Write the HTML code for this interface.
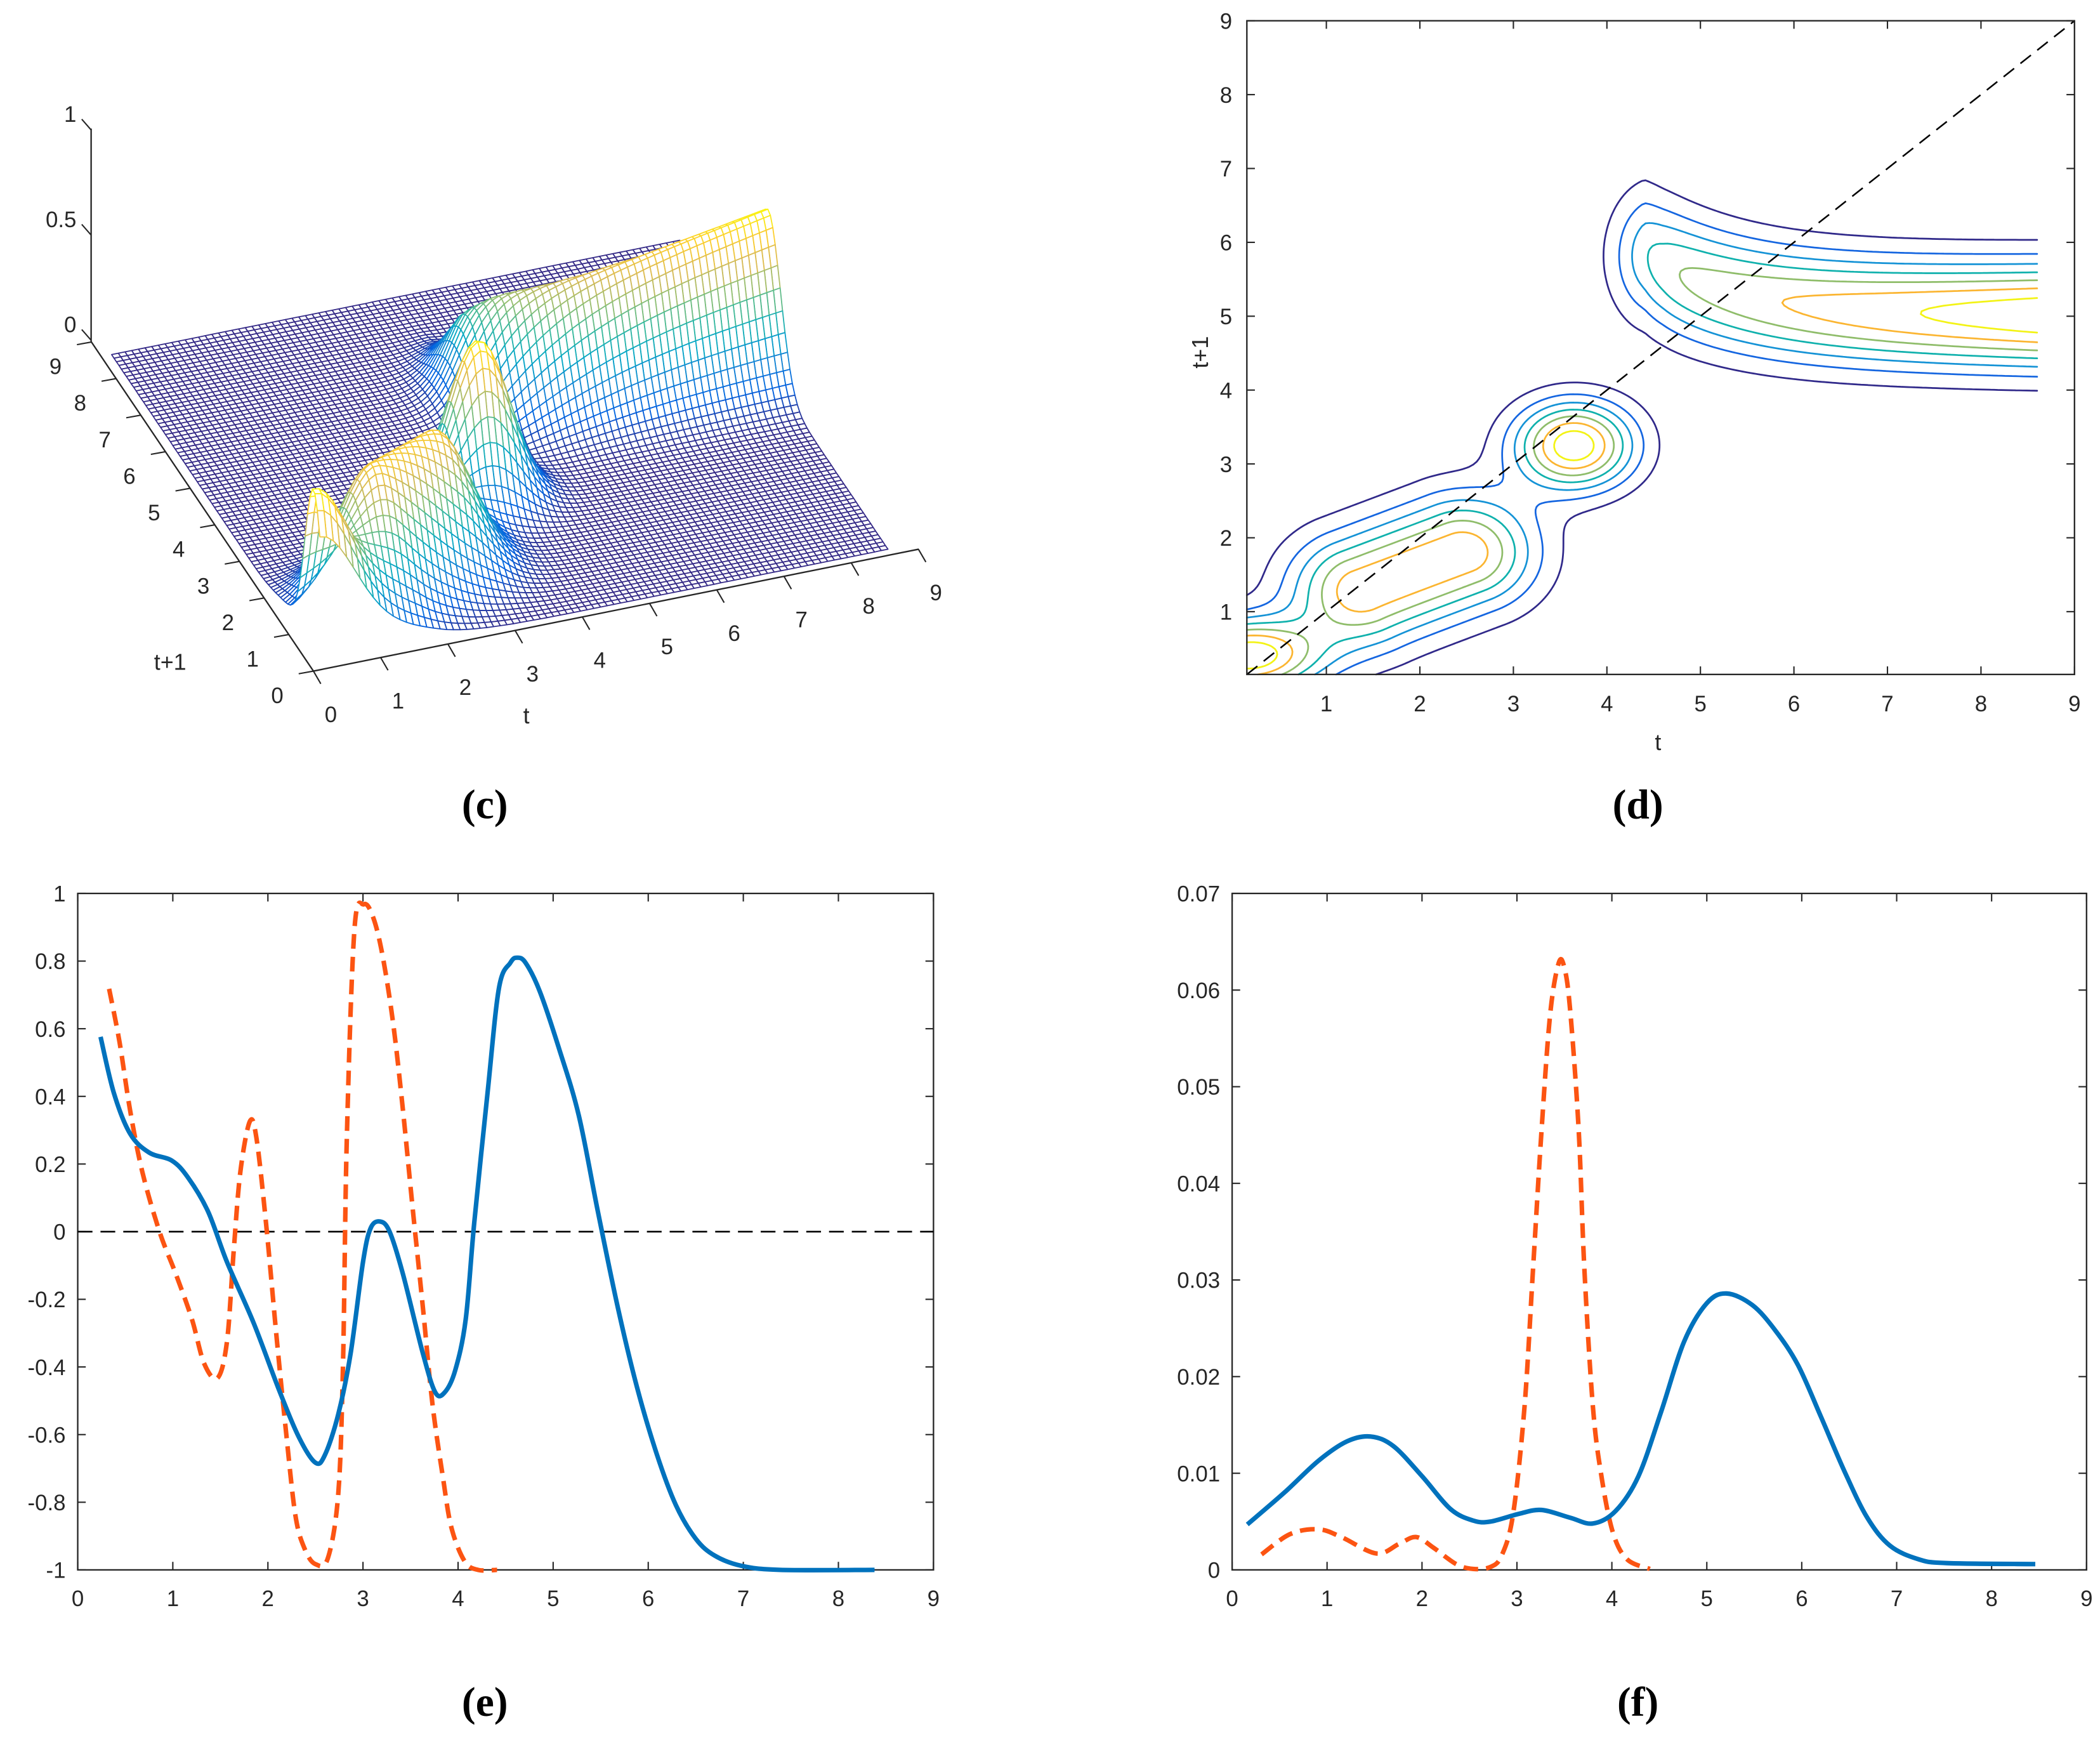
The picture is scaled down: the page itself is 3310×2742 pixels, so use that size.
<!DOCTYPE html>
<html><head><meta charset="utf-8"><style>
html,body{margin:0;padding:0;background:#fff;}
svg{display:block;}
text{font-family:"Liberation Sans",Arial,sans-serif;fill:#262626;}
.pl{font-family:"Liberation Serif",serif;font-weight:bold;fill:#000;}
</style></head><body>
<svg id="fig" xmlns="http://www.w3.org/2000/svg" width="3310" height="2742" viewBox="0 0 1568 1299">
<rect x="0" y="0" width="1568" height="1299" fill="#fff"/>
<g id="pc"></g>
<g id="pd"></g>
<g id="pe"></g>
<g id="pf"></g>
<text class="pl" x="362" y="611" font-size="31" text-anchor="middle">(c)</text>
<text class="pl" x="1223" y="611" font-size="31" text-anchor="middle">(d)</text>
<text class="pl" x="362" y="1281" font-size="31" text-anchor="middle">(e)</text>
<text class="pl" x="1223" y="1281" font-size="31" text-anchor="middle">(f)</text>
</svg>
<script>
// ---------- data ----------
const peakA = [0.78, 0.15, 0.40, 0.55, 0.35];           // amp, t, s, sigT, sigS
const ridgeB = [0.68, 1.40, 1.30, 2.45, 1.80, 0.55];     // amp, t1, s1, t2, s2, sigma
const peakC = [0.78, 3.65, 3.25, 0.45, 0.42];
const ridgeD = [0.50, 0.78, 4.20, 5.00, 0.90, 0.50];     // ampStart, ampEnd, edgeT, centerEnd, centerShift, sigma
const contourLevels = [0.1, 0.2, 0.3, 0.4, 0.5, 0.6, 0.7];
const contourColors = ["#30298a","#1566e0","#1593d6","#10b1ad","#8fbd6a","#fbb531","#f3f316"];
const dTicks = [1,2,3,4,5,6,7,8,9];

// panel e
const eT_blue = [0.24,0.38,0.55,0.75,0.99,1.16,1.37,1.57,1.85,2.12,2.33,2.5,2.6,2.74,2.87,3.0,3.08,3.18,3.28,3.42,3.63,3.76,3.86,3.97,4.08,4.17,4.31,4.43,4.55,4.62,4.71,4.86,5.06,5.27,5.47,5.68,5.88,6.09,6.29,6.5,6.7,6.98,7.39,8.38];
const eV_blue = [0.576,0.41,0.29,0.234,0.21,0.16,0.06,-0.09,-0.27,-0.47,-0.61,-0.683,-0.66,-0.54,-0.36,-0.09,0.01,0.03,0,-0.125,-0.36,-0.475,-0.475,-0.41,-0.26,0.026,0.41,0.72,0.795,0.81,0.795,0.71,0.543,0.343,0.06,-0.224,-0.458,-0.658,-0.808,-0.908,-0.958,-0.988,-1,-1];
const eT_red = [0.33,0.44,0.55,0.68,0.86,1.03,1.2,1.33,1.47,1.57,1.64,1.71,1.81,1.88,1.98,2.09,2.19,2.29,2.39,2.5,2.63,2.74,2.79,2.83,2.91,3.01,3.11,3.21,3.32,3.42,3.52,3.63,3.73,3.84,3.93,4.07,4.21,4.41];
const eV_red = [0.718,0.56,0.36,0.176,0,-0.124,-0.258,-0.39,-0.433,-0.324,-0.058,0.176,0.326,0.276,0.026,-0.308,-0.59,-0.84,-0.94,-0.983,-0.966,-0.775,-0.39,0.276,0.893,0.968,0.927,0.81,0.61,0.36,0.076,-0.224,-0.508,-0.725,-0.875,-0.975,-1,-1];
const eYTicks = [1,0.8,0.6,0.4,0.2,0,-0.2,-0.4,-0.6,-0.8,-1];
const eYLabels = ["1","0.8","0.6","0.4","0.2","0","-0.2","-0.4","-0.6","-0.8","-1"];
const xTicks09 = [0,1,2,3,4,5,6,7,8,9];

// panel f
const fT_blue = [0.16,0.55,0.91,1.21,1.46,1.7,2.0,2.3,2.54,2.72,3.02,3.26,3.56,3.8,4.04,4.28,4.52,4.76,5.0,5.21,5.48,5.72,5.96,6.2,6.45,6.69,6.93,7.23,7.53,8.46];
const fV_blue = [0.0047,0.008,0.0113,0.0133,0.0138,0.0128,0.0097,0.0063,0.0051,0.005,0.0058,0.0062,0.0054,0.0048,0.0061,0.0097,0.0164,0.0236,0.0276,0.0286,0.0274,0.0248,0.0212,0.0159,0.0102,0.0054,0.0025,0.0011,0.0007,0.0006];
const fT_red = [0.31,0.61,0.91,1.15,1.52,1.76,1.94,2.12,2.36,2.54,2.72,2.84,2.96,3.08,3.17,3.26,3.35,3.44,3.5,3.56,3.65,3.71,3.8,3.89,4.01,4.16,4.4];
const fV_red = [0.0016,0.0037,0.0042,0.0034,0.0017,0.0027,0.0034,0.0023,0.0006,0.0001,0.0003,0.0015,0.0058,0.0169,0.0312,0.0456,0.0575,0.0628,0.0623,0.058,0.0456,0.0312,0.0169,0.0097,0.0039,0.0011,0.0001];
const fYTicks = [0,0.01,0.02,0.03,0.04,0.05,0.06,0.07];
const fYLabels = ["0","0.01","0.02","0.03","0.04","0.05","0.06","0.07"];

// ---------- helpers ----------
const NS="http://www.w3.org/2000/svg";
const TFS=16.5;
function mk(parent,tag,attrs){const e=document.createElementNS(NS,tag);for(const k in attrs)e.setAttribute(k,attrs[k]);parent.appendChild(e);return e;}
function sig(x){return 1/(1+Math.exp(-x));}
function surf(t,s){
  let v=peakA[0]*Math.exp(-((t-peakA[1])**2)/(2*peakA[3]**2)-((s-peakA[2])**2)/(2*peakA[4]**2));
  const [bA,t1,s1,t2,s2,bS]=ridgeB;const dx=t2-t1,dy=s2-s1;let u=((t-t1)*dx+(s-s1)*dy)/(dx*dx+dy*dy);u=Math.max(0,Math.min(1,u));
  const d2=(t-t1-u*dx)**2+(s-s1-u*dy)**2; v+=bA*Math.exp(-d2/(2*bS*bS));
  v+=peakC[0]*Math.exp(-((t-peakC[1])**2)/(2*peakC[3]**2)-((s-peakC[2])**2)/(2*peakC[4]**2));
  const [a0,a1,eT,cE,cS,sg]=ridgeD;
  const tt=Math.max(t,4.4);
  const a=(a0+(a1-a0)*Math.pow(Math.min(1,Math.max(0,(t-4.6)/4)),0.9))*sig((t-eT)/0.17);
  const c=cE+cS*Math.exp(-(tt-4.3)/1.0);
  const sd=sg+0.13*Math.exp(-(tt-4.4)/1.2);
  v+=a*Math.exp(-((s-c)**2)/(2*sd*sd));
  return v;
}
const parulaStops=[[53,42,135],[3,99,225],[20,133,212],[6,167,198],[56,185,158],[146,191,115],[217,186,86],[252,206,46],[249,251,14]];
function parula(x){x=Math.max(0,Math.min(1,x))*(parulaStops.length-1);const i=Math.min(parulaStops.length-2,Math.floor(x));const f=x-i;const a=parulaStops[i],b=parulaStops[i+1];
  return "rgb("+[0,1,2].map(k=>Math.round(a[k]+(b[k]-a[k])*f)).join(",")+")";}
function smoothPath(xs,ys){let d="M"+xs[0].toFixed(2)+","+ys[0].toFixed(2);
  for(let i=0;i<xs.length-1;i++){const x0=xs[Math.max(0,i-1)],y0=ys[Math.max(0,i-1)],x1=xs[i],y1=ys[i],x2=xs[i+1],y2=ys[i+1],x3=xs[Math.min(xs.length-1,i+2)],y3=ys[Math.min(xs.length-1,i+2)];
    d+=" C"+(x1+(x2-x0)/6).toFixed(2)+","+(y1+(y2-y0)/6).toFixed(2)+" "+(x2-(x3-x1)/6).toFixed(2)+","+(y2-(y3-y1)/6).toFixed(2)+" "+x2.toFixed(2)+","+y2.toFixed(2);}
  return d;}
function label(parent,x,y,txt,anchor,size,name){const e=mk(parent,"text",{x:x,y:y,"font-size":size||TFS,"text-anchor":anchor||"middle"});e.textContent=txt;
  
  
  return e;}

// ---------- panel c: 3D mesh ----------
(function(){
  const g=document.getElementById("pc");
  const P=(t,s,z)=>[234+50.2*t-18.4*s,501-10.1*t-27.3*s-155*z];
  const ax=mk(g,"path",{d:"M68,96 L68,255 L234,501 L686,410",fill:"none",stroke:"#262626","stroke-width":1.1});
  
  
  const N=85,lo=0.15,hi=8.6,st=(hi-lo)/N;
  const Z=[];for(let i=0;i<=N;i++){Z.push([]);for(let j=0;j<=N;j++)Z[i].push(surf(lo+i*st,lo+j*st));}
  let zmax=0;Z.forEach(r=>r.forEach(v=>{if(v>zmax)zmax=v;}));
  const quads=[];
  for(let i=0;i<N;i++)for(let j=0;j<N;j++){const t=lo+(i+0.5)*st,s=lo+(j+0.5)*st;quads.push([10.1*t+27.3*s,i,j]);}
  quads.sort((a,b)=>b[0]-a[0]);
  const mg=mk(g,"g",{fill:"#fff","stroke-width":0.85,"stroke-linejoin":"round"});
  
  
  for(const q of quads){const i=q[1],j=q[2];
    const pts=[[i,j],[i+1,j],[i+1,j+1],[i,j+1]].map(([a,b])=>P(lo+a*st,lo+b*st,Z[a][b]));
    const zc=(Z[i][j]+Z[i+1][j]+Z[i+1][j+1]+Z[i][j+1])/4;
    mk(mg,"path",{d:"M"+pts.map(p=>p[0].toFixed(1)+","+p[1].toFixed(1)).join("L")+"Z",stroke:parula(zc/zmax)});}
  const tk=mk(g,"g",{stroke:"#262626","stroke-width":1});
  
  
  for(const t of xTicks09){const p=P(t,0,0);mk(tk,"line",{x1:p[0],y1:p[1],x2:p[0]+5.5,y2:p[1]+9.5});label(g,p[0]+13,p[1]+38,String(t),"middle",TFS,"t-tick-label");}
  for(const s of xTicks09){const p=P(0,s,0);mk(tk,"line",{x1:p[0],y1:p[1],x2:p[0]-11,y2:p[1]+2});label(g,p[0]-27,p[1]+24,String(s),"middle",TFS,"t1-tick-label");}
  const zt=[[0,"0"],[0.5,"0.5"],[1,"1"]];
  for(const [z,lb] of zt){const y=254-157*z;mk(tk,"line",{x1:68,y1:y,x2:61,y2:y-8});label(g,57,y-6,lb,"end",TFS,"z-tick-label");}
  label(g,393,540,"t","middle",17,"t-axis-title");
  label(g,127,500,"t+1","middle",17,"t1-axis-title");
})();

// ---------- panel d: contour ----------
(function(){
  const g=document.getElementById("pd");
  const X0=931,X1=1549,Y0=15.5,Y1=503.5,tmin=0.15,tmax=9,smin=0.15,smax=9;
  const xs=t=>X0+(t-tmin)/(tmax-tmin)*(X1-X0), ys=s=>Y1-(s-smin)/(smax-smin)*(Y1-Y0);
  const M=220,lo=0.15,hi=8.6,st=(hi-lo)/M;
  const V=[];for(let i=0;i<=M;i++){V.push([]);for(let j=0;j<=M;j++)V[i].push(surf(lo+i*st,lo+j*st));}
  contourLevels.forEach((L,k)=>{
    let d="";
    for(let i=0;i<M;i++)for(let j=0;j<M;j++){
      const c=[[i,j],[i+1,j],[i+1,j+1],[i,j+1]];const v=c.map(([a,b])=>V[a][b]);
      const pts=[];
      for(let e=0;e<4;e++){const a=v[e],b=v[(e+1)%4];if((a<L)!==(b<L)){const f=(L-a)/(b-a);const p=c[e],q=c[(e+1)%4];
        const t=lo+(p[0]+(q[0]-p[0])*f)*st,s=lo+(p[1]+(q[1]-p[1])*f)*st;pts.push([xs(t),ys(s)]);}}
      for(let m=0;m+1<pts.length;m+=2)d+="M"+pts[m][0].toFixed(2)+","+pts[m][1].toFixed(2)+"L"+pts[m+1][0].toFixed(2)+","+pts[m+1][1].toFixed(2);
    }
    const p=mk(g,"path",{d:d,fill:"none",stroke:contourColors[k],"stroke-width":1.3,"stroke-linecap":"round"});
    
    
  });
  const dg=mk(g,"line",{x1:xs(tmin),y1:ys(smin),x2:xs(9),y2:ys(9),stroke:"#000","stroke-width":1.2,"stroke-dasharray":"10 6"});
  
  
  const bx=mk(g,"rect",{x:X0,y:Y0,width:X1-X0,height:Y1-Y0,fill:"none",stroke:"#262626","stroke-width":1.1});
  
  
  const tk=mk(g,"g",{stroke:"#262626","stroke-width":1});
  
  
  for(const t of dTicks){const x=xs(t);mk(tk,"line",{x1:x,y1:Y1,x2:x,y2:Y1-6});mk(tk,"line",{x1:x,y1:Y0,x2:x,y2:Y0+6});label(g,x,531,String(t),"middle",TFS,"x-tick-label");
    const y=ys(t);mk(tk,"line",{x1:X0,y1:y,x2:X0+6,y2:y});mk(tk,"line",{x1:X1,y1:y,x2:X1-6,y2:y});label(g,920,y+6,String(t),"end",TFS,"y-tick-label");}
  label(g,1238,560,"t","middle",17,"x-axis-title");
  const yt=label(g,0,0,"t+1","middle",17,"y-axis-title");yt.setAttribute("transform","translate(902,263) rotate(-90)");
})();

// ---------- line chart helper ----------
function lineChart(gid,X0,X1,Y0,Y1,vmin,vmax,yt,yl,series,zeroLine){
  const g=document.getElementById(gid);
  const xs=t=>X0+t/9*(X1-X0), ys=v=>Y1-(v-vmin)/(vmax-vmin)*(Y1-Y0);
  const bx=mk(g,"rect",{x:X0,y:Y0,width:X1-X0,height:Y1-Y0,fill:"none",stroke:"#262626","stroke-width":1.1});
  
  
  const tk=mk(g,"g",{stroke:"#262626","stroke-width":1});
  
  
  for(const t of xTicks09){const x=xs(t);mk(tk,"line",{x1:x,y1:Y1,x2:x,y2:Y1-6});mk(tk,"line",{x1:x,y1:Y0,x2:x,y2:Y0+6});label(g,x,Y1+27,String(t),"middle",TFS,"x-tick-label");}
  yt.forEach((v,i)=>{const y=ys(v);mk(tk,"line",{x1:X0,y1:y,x2:X0+6,y2:y});mk(tk,"line",{x1:X1,y1:y,x2:X1-6,y2:y});label(g,X0-9,y+6,yl[i],"end",TFS,"y-tick-label");});
  if(zeroLine){const z=mk(g,"line",{x1:X0,y1:ys(0),x2:X1,y2:ys(0),stroke:"#000","stroke-width":1.2,"stroke-dasharray":"11 6"});
    
    }
  for(const s of series){
    const p=mk(g,"path",{d:smoothPath(s.t.map(xs),s.v.map(ys)),fill:"none",stroke:s.c,"stroke-width":3.4,"stroke-dasharray":s.dash||"none","stroke-linejoin":"round"});
    
    
  }
}
lineChart("pe",58,697,667,1172,-1,1,eYTicks,eYLabels,[
  {t:eT_red,v:eV_red,c:"#fc5412",dash:"11 6",name:"series-red-dashed"},
  {t:eT_blue,v:eV_blue,c:"#0072bd",name:"series-blue-solid"}],true);
lineChart("pf",920,1558,667,1172,0,0.07,fYTicks,fYLabels,[
  {t:fT_red,v:fV_red,c:"#fc5412",dash:"11 6",name:"series-red-dashed"},
  {t:fT_blue,v:fV_blue,c:"#0072bd",name:"series-blue-solid"}],false);
</script>
</body></html>
